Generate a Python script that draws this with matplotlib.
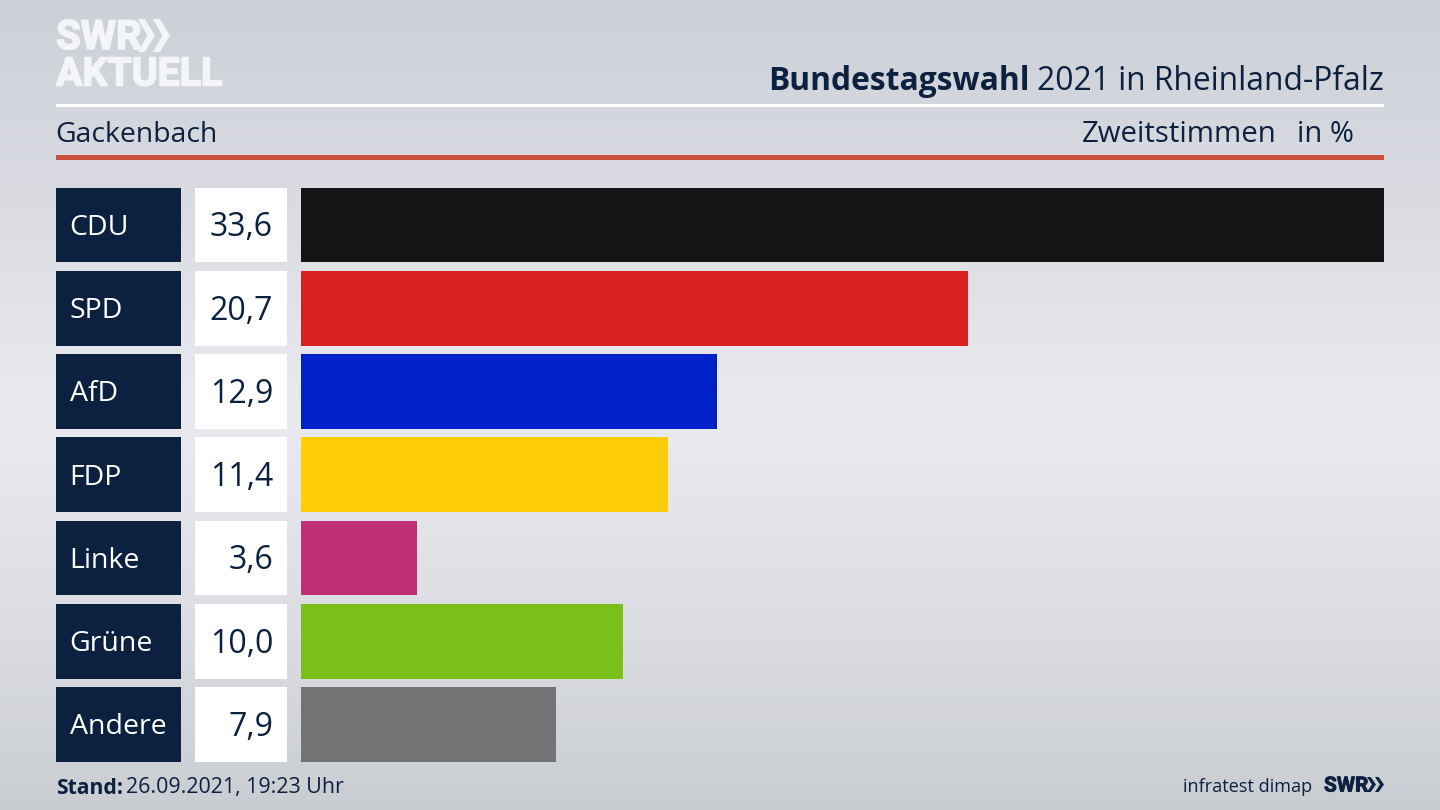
import numpy as np
import matplotlib
matplotlib.use("Agg")
import matplotlib.pyplot as plt
import matplotlib.patheffects as pe
from matplotlib.patches import Polygon, Rectangle

parties = ["CDU", "SPD", "AfD", "FDP", "Linke", "Grüne", "Andere"]
values = [33.6, 20.7, 12.9, 11.4, 3.6, 10.0, 7.9]
value_labels = ["33,6", "20,7", "12,9", "11,4", "3,6", "10,0", "7,9"]
colors = ["#141414", "#da201e", "#0021c8", "#ffcd08", "#bf3077", "#7abf1a", "#737375"]

NAVY = "#0c2040"
LOGO = "#f4f5f7"
FONT = "Open Sans"
W, H = 1440, 810
plt.rcParams["font.family"] = FONT

fig = plt.figure(figsize=(W / 100, H / 100), dpi=100)


def px_axes(x0, y0, x1, y1, **kw):
    return fig.add_axes([x0 / W, 1 - y1 / H, (x1 - x0) / W, (y1 - y0) / H], **kw)


# background
bg = px_axes(0, 0, W, H)
bg.set_xlim(0, W)
bg.set_ylim(H, 0)
bg.axis("off")
stops_y = [0, 200, 415, 620, 810]
stops_v = [0.0, 0.45, 1.0, 0.55, 0.0]
yy = np.arange(H)
t = np.interp(yy, stops_y, stops_v)
top = np.array([0xcd, 0xd0, 0xd7])
mid = np.array([0xea, 0xeb, 0xf0])
bot = np.array([0xc9, 0xcc, 0xd1])
edge = top[None, :] + (bot - top)[None, :] * (yy / H)[:, None]
img = (edge + (mid - edge) * t[:, None]) / 255
bg.imshow(img[:, None, :], extent=(0, W, H, 0), aspect="auto", zorder=0)

# header lines
bg.add_patch(Rectangle((56, 104), 1328, 3, color="white", lw=0, zorder=1))
bg.add_patch(Rectangle((56, 155), 1328, 5, color="#c94f3d", lw=0, zorder=1))

# header text
bg.text(55, 135, "Gackenbach", fontsize=20.4, color=NAVY, va="center", ha="left")
bg.text(1277, 135, "Zweitstimmen", fontsize=21.2, color=NAVY, va="center", ha="right")
bg.text(1354, 135, "in %", fontsize=21, color=NAVY, va="center", ha="right")
t2 = bg.text(1384, 81, "2021 in Rheinland-Pfalz", fontsize=22.9, color=NAVY, va="center", ha="right")
fig.canvas.draw()
inv = bg.transData.inverted()
ext = t2.get_window_extent()
left_x = inv.transform((ext.x0, ext.y0))[0]
bg.text(left_x - 8, 81, "Bundestagswahl", fontsize=22.9, color=NAVY, va="center", ha="right",
        fontweight="bold")

# footer
bg.text(56, 788, "Stand:", fontsize=15.2, color=NAVY, va="center", ha="left", fontweight="bold")
bg.text(126, 788, "26.09.2021, 19:23 Uhr", fontsize=15.4, color=NAVY, va="center", ha="left")
bg.text(1312, 787, "infratest dimap", fontsize=13.1, color=NAVY, va="center", ha="right")
bg.text(1324, 786, "SWR", fontsize=15, color=NAVY, va="center", ha="left", fontweight="bold",
        family="Roboto", path_effects=[pe.withStroke(linewidth=0.6, foreground=NAVY)])

# logo
heavy = [pe.withStroke(linewidth=1.2, foreground=LOGO)]
bg.text(56, 38, "SWR", fontsize=29, color=LOGO, va="center", ha="left", fontweight="bold",
        family="Roboto", path_effects=heavy)
bg.text(56, 75, "AKTUELL", fontsize=28.3, color=LOGO, va="center", ha="left", fontweight="bold",
        family="Roboto", path_effects=heavy)


def chevron(x, y, w, h, c):
    bg.add_patch(Polygon([(x, y), (x + w * 0.4, y), (x + w, y + h / 2), (x + w * 0.4, y + h),
                          (x, y + h), (x + w * 0.55, y + h / 2)], closed=True, color=c, lw=0, zorder=2))


chevron(138, 19, 17, 33, LOGO)
chevron(153, 19, 17, 33, LOGO)
chevron(1367, 777, 9, 15, NAVY)
chevron(1375, 777, 9, 15, NAVY)

# rows
y_pos = np.arange(len(parties))
BAR_H = 0.9
top_px, bot_px = 187.5, 762
ylim = (len(parties) - 1 + BAR_H / 2, -BAR_H / 2)

lab = px_axes(56, top_px, 181, bot_px)
val = px_axes(195, top_px, 287, bot_px)
main = px_axes(301, top_px, 1384, bot_px)
for a in (lab, val, main):
    a.set_ylim(*ylim)
    a.axis("off")
    a.patch.set_alpha(0)

lab.set_xlim(0, 1)
val.set_xlim(0, 1)
main.set_xlim(0, max(values))

lab.barh(y_pos, [1] * len(parties), height=BAR_H, color=NAVY)
val.barh(y_pos, [1] * len(parties), height=BAR_H, color="white")
main.barh(y_pos, values, height=BAR_H, color=colors)

for i, (p, v) in enumerate(zip(parties, value_labels)):
    lab.text(13.5 / 125, i + 0.035, p, fontsize=20.5, color="white", va="center", ha="left")
    val.text(78 / 92, i + 0.035, v, fontsize=23, color=NAVY, va="center", ha="right")

fig.savefig("out.png", dpi=100)
